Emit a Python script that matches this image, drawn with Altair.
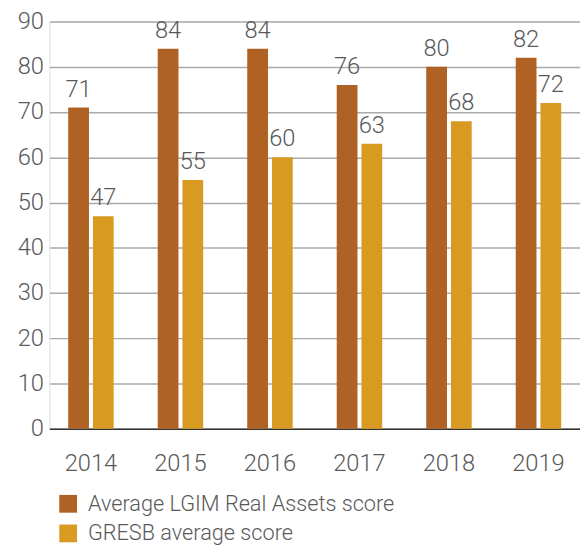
import altair as alt
import pandas as pd

years = ["2014", "2015", "2016", "2017", "2018", "2019"]
lgim = [71, 84, 84, 76, 80, 82]
gresb = [47, 55, 60, 63, 68, 72]
series = ["Average LGIM Real Assets score", "GRESB average score"]
colors = ["#AF6224", "#D99A22"]
y_ticks = [0, 10, 20, 30, 40, 50, 60, 70, 80, 90]

rows = []
for i, yr in enumerate(years):
    rows.append({"year": yr, "series": series[0], "value": lgim[i]})
    rows.append({"year": yr, "series": series[1], "value": gresb[i]})
df = pd.DataFrame(rows)

FONT = "Roboto"
TXT = "#595959"

x_enc = alt.X("year:N", sort=years, title=None,
              scale=alt.Scale(paddingInner=0.492, paddingOuter=0.21),
              axis=alt.Axis(labelAngle=0, labelFontSize=24, labelFont=FONT,
                            labelFontWeight=300, labelColor=TXT, labelPadding=23,
                            ticks=False, domain=True, domainColor="#333333",
                            domainWidth=1.5, grid=False))
xoff = alt.XOffset("series:N", sort=series, scale=alt.Scale(paddingInner=0.16, paddingOuter=0))
y_enc = alt.Y("value:Q", title=None,
              scale=alt.Scale(domain=[0, 90], nice=False),
              axis=alt.Axis(values=y_ticks, labelFontSize=24, labelFont=FONT,
                            labelFontWeight=300, labelColor=TXT, labelPadding=6,
                            ticks=False, domain=False, grid=True,
                            gridColor="#AAAAAA", gridWidth=1.5))

base = alt.Chart(df)
bars = base.mark_bar().encode(
    x=x_enc, xOffset=xoff, y=y_enc,
    color=alt.Color("series:N", sort=series,
                    scale=alt.Scale(domain=series, range=colors),
                    legend=alt.Legend(title=None, orient="none", legendX=8, legendY=478,
                                      symbolType="square", symbolSize=324,
                                      symbolStrokeWidth=0,
                                      labelFontSize=22, labelFont=FONT,
                                      labelFontWeight=300, labelColor=TXT,
                                      labelOffset=9, rowPadding=8,
                                      labelLimit=500)),
)
labels = base.mark_text(baseline="bottom", dy=-6, fontSize=24, font=FONT,
                        fontWeight=300, color=TXT).encode(
    x=alt.X("year:N", sort=years), xOffset=xoff, y=alt.Y("value:Q"),
    text=alt.Text("value:Q"),
)

chart = (bars + labels).properties(
    width=538, height=413,
    autosize=alt.AutoSizeParams(type="none"),
    padding={"left": 42, "top": 10, "right": 0, "bottom": 114},
).configure_view(stroke=None).configure(background="white")

chart.save("out.html", embed_options={"renderer": "svg", "actions": False})
